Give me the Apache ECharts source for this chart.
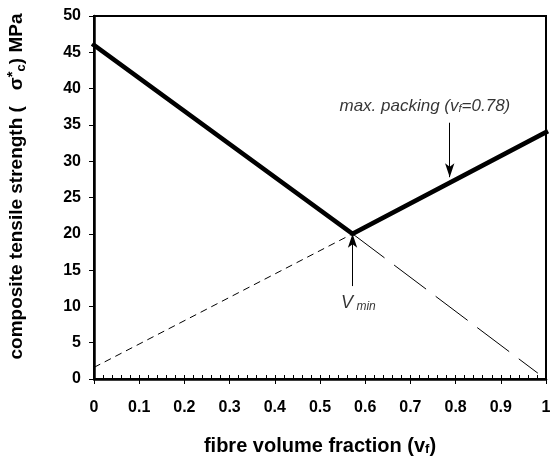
<!DOCTYPE html>
<html><head><meta charset="utf-8">
<script src="https://cdn.jsdelivr.net/npm/echarts@6/dist/echarts.min.js"></script>
<style>html,body{margin:0;padding:0;background:#fff}#c{width:550px;height:456px}</style>
</head><body><div id="c"></div>
<script>
// Data
var thickX = [0, 0.572, 1];
var thickY = [46, 20, 34];
var dashLeftX = [0, 0.572];
var dashLeftY = [1.6, 20];
var dashRightX = [0.572, 0.982];
var dashRightY = [20, 0.8];
var xTicks = [0,0.1,0.2,0.3,0.4,0.5,0.6,0.7,0.8,0.9,1];
var yTicks = [0,5,10,15,20,25,30,35,40,45,50];
var packArrow = [[0.787, 35.3],[0.787, 27.8]];
var vminArrow = [[0.572, 12.8],[0.572, 20]];
var packLabelPos = [0.732, 37.6];
var vminLabelPos = [0.585, 10.5];

function zip(a,b){return a.map(function(v,i){return [v,b[i]];});}
var F = 'Liberation Sans, Arial, sans-serif';
var chart = echarts.init(document.getElementById('c'), null, {renderer:'canvas'});
chart.setOption({
  animation:false,
  backgroundColor:'#fff',
  grid:{left:94,right:4,top:16,bottom:77,containLabel:false,outerBoundsMode:'none',
        show:true,borderColor:'#000',borderWidth:2},
  xAxis:[{
    type:'value',min:0,max:1,interval:0.1,
    axisLine:{lineStyle:{color:'#000',width:2.5}},
    axisTick:{show:true,inside:false,length:5,lineStyle:{color:'#000',width:1}},
    splitLine:{show:false},
    axisLabel:{margin:21,color:'#000',fontFamily:F,fontWeight:'bold',fontSize:16,
      formatter:function(v){return String(Math.round(v*10)/10);}},
    name:'{a|fibre volume fraction (v}{s|f}{a|)}',
    nameLocation:'middle',nameGap:57,
    nameTextStyle:{rich:{a:{fontFamily:F,fontWeight:'bold',fontSize:20,color:'#000'},
      s:{fontFamily:F,fontWeight:'bold',fontSize:13,color:'#000',padding:[7,0,0,0]}}}
  },{
    type:'value',min:0,max:1,interval:0.02,position:'bottom',
    axisLine:{show:false},
    axisTick:{show:true,inside:true,length:4,lineStyle:{color:'#000',width:1}},
    axisLabel:{show:false},splitLine:{show:false}
  }],
  yAxis:{
    type:'value',min:0,max:50,interval:5,
    axisLine:{show:true,lineStyle:{color:'#000',width:2.5}},
    axisTick:{show:true,inside:false,length:5,lineStyle:{color:'#000',width:1}},
    splitLine:{show:false},
    axisLabel:{margin:13,color:'#000',fontFamily:F,fontWeight:'bold',fontSize:16},
    name:'{a|composite tensile strength (   σ}{p|*}{s|c}{a|) MPa}',
    nameLocation:'middle',nameGap:65,nameRotate:90,
    nameTextStyle:{padding:[0,0,0,22],rich:{a:{fontFamily:F,fontWeight:'bold',fontSize:19,color:'#000'},
      p:{fontFamily:F,fontWeight:'bold',fontSize:15,color:'#000',padding:[0,0,9,0]},
      s:{fontFamily:F,fontWeight:'bold',fontSize:13,color:'#000',padding:[8,0,0,0]}}}
  },
  series:[
    {type:'line',data:zip(dashLeftX,dashLeftY),symbol:'none',
     lineStyle:{color:'#000',width:1,type:[7,5]}},
    {type:'line',data:zip(dashRightX,dashRightY),symbol:'none',
     lineStyle:{color:'#000',width:1,type:[40,12]}},
    {type:'line',data:zip(thickX,thickY),symbol:'none',
     lineStyle:{color:'#000',width:4.5,cap:'square',join:'miter'},
     markLine:{silent:true,symbol:['none','arrow'],symbolSize:[7,14],
       lineStyle:{color:'#000',width:1,type:'solid'},label:{show:false},
       data:[
         [{coord:packArrow[0]},{coord:packArrow[1]}],
         [{coord:vminArrow[0]},{coord:vminArrow[1]}]
       ]}},
    {type:'scatter',symbolSize:0,itemStyle:{color:'#000'},
     data:[{value:packLabelPos,label:{show:true,position:'inside',color:'#000',textBorderWidth:0,
        formatter:'{a|max. packing (v}{s|f}{a|=0.78)}',
        rich:{a:{fontFamily:F,fontStyle:'italic',fontSize:17,color:'#000'},
              s:{fontFamily:F,fontStyle:'italic',fontSize:11,color:'#000',padding:[6,0,0,0]}}}},
       {value:vminLabelPos,label:{show:true,position:'inside',color:'#000',textBorderWidth:0,
        formatter:'{a|V}{s| min}',
        rich:{a:{fontFamily:F,fontStyle:'italic',fontSize:18,color:'#000'},
              s:{fontFamily:F,fontStyle:'italic',fontSize:12,color:'#000',padding:[8,0,0,0]}}}}]}
  ]
});
</script></body></html>
